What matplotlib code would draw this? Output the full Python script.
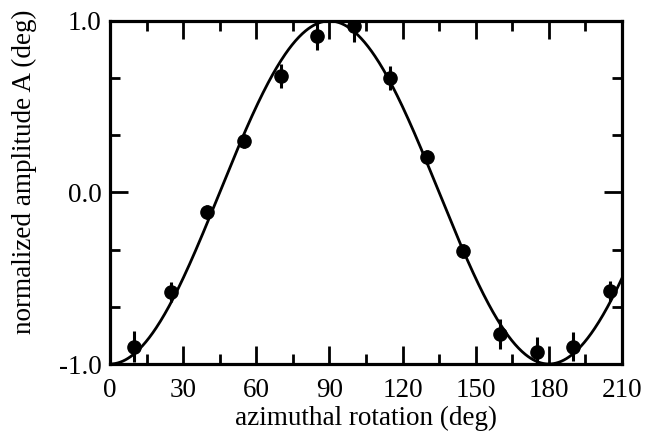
import numpy as np
import matplotlib
matplotlib.use("Agg")
import matplotlib.pyplot as plt
from matplotlib.ticker import MultipleLocator, FixedLocator

# data
angle = [10, 25, 40, 55, 70, 85, 100, 115, 130, 145, 160, 175, 190, 205]
amplitude = [-0.90, -0.58, -0.115, 0.30, 0.68, 0.915, 0.97, 0.665, 0.205, -0.34, -0.825, -0.93, -0.90, -0.575]
error = [0.09, 0.06, 0.04, 0.04, 0.07, 0.085, 0.095, 0.07, 0.04, 0.04, 0.085, 0.09, 0.085, 0.06]

# fitted model: A = -cos(2*theta)
fit_amp = 1.0
fit_phase = 0.0

plt.rcParams['font.family'] = ['Liberation Serif', 'DejaVu Serif']

fig = plt.figure(figsize=(6.45, 4.37), dpi=100)
ax = fig.add_axes([0.1705, 0.167, 0.7938, 0.785])

theta = np.linspace(0, 210, 600)
ax.plot(theta, -fit_amp * np.cos(np.radians(2 * (theta - fit_phase))), color='black', lw=2.0, zorder=2)
ax.errorbar(angle, amplitude, yerr=error, fmt='o', color='black', ms=9.5, elinewidth=2.2, capsize=0, zorder=3)

ax.set_xlim(0, 210)
ax.set_ylim(-1, 1)
ax.xaxis.set_major_locator(MultipleLocator(30))
ax.xaxis.set_minor_locator(MultipleLocator(15))
ax.yaxis.set_major_locator(FixedLocator([-1.0, 0.0, 1.0]))
ax.yaxis.set_minor_locator(FixedLocator([-2/3, -1/3, 1/3, 2/3]))
ax.set_yticklabels(['-1.0', '0.0', '1.0'])
ax.tick_params(which='both', direction='in', top=True, right=True, width=2, labelsize=19.5)
ax.tick_params(axis='x', which='major', pad=10)
ax.tick_params(axis='y', which='major', pad=6)
ax.tick_params(which='major', length=13)
ax.tick_params(which='minor', length=7)
for s in ax.spines.values():
    s.set_linewidth(2.3)

ax.set_xlabel('azimuthal rotation (deg)', fontsize=19.5)
ax.set_ylabel('normalized amplitude A (deg)', fontsize=19.5)
ax.xaxis.set_label_coords(0.5, -0.123)
ax.yaxis.set_label_coords(-0.142, 0.56)

fig.savefig('out.png', dpi=100)
